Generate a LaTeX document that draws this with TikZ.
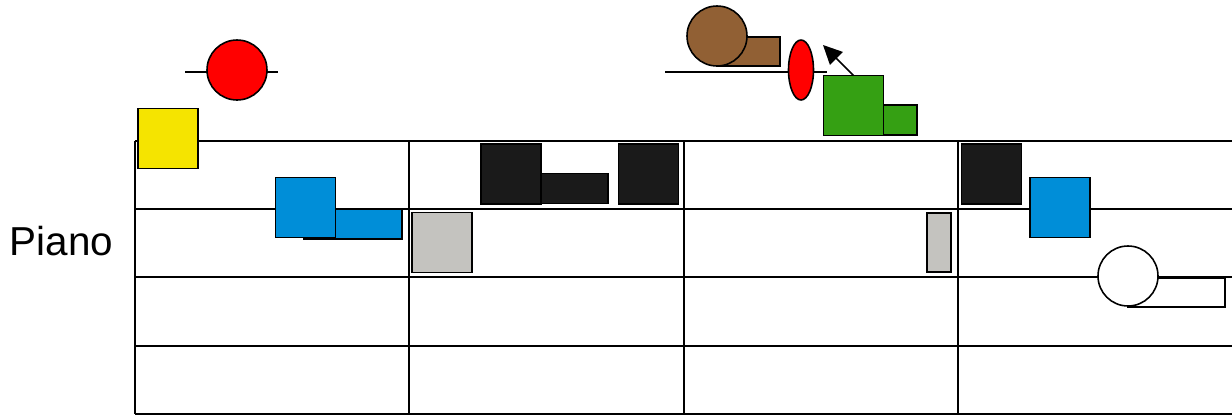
\documentclass[tikz,border=0pt]{standalone}
\usepackage{fontspec}
\setmainfont{Liberation Sans}
\usetikzlibrary{arrows.meta,shapes.geometric}
\definecolor{NoteYellow}{RGB}{245,228,0}
\definecolor{NoteRed}{RGB}{255,0,0}
\definecolor{NoteBlue}{RGB}{0,142,216}
\definecolor{NoteGray}{RGB}{196,195,191}
\definecolor{NoteBlack}{RGB}{26,26,26}
\definecolor{NoteBrown}{RGB}{145,96,52}
\definecolor{NoteGreen}{RGB}{53,160,19}

\begin{document}
\begin{tikzpicture}[
    x=0.02cm, y=-0.02cm,
    piece/.style={draw, line width=0.9pt, inner sep=0pt, outer sep=0pt},
    sq/.style={piece, minimum width=12mm, minimum height=12mm},
    bar/.style={piece, minimum width=#1, minimum height=6mm},
    ball/.style={piece, circle, minimum size=12mm},
    gridline/.style={line width=1.1pt},
    >=Stealth
  ]
  \useasboundingbox (0,0) rectangle (1232,416);

  % Raster
  \foreach \r in {141,209,277,346,414}{
    \draw[gridline] (135,\r) -- (1232,\r);
  }
  \foreach \c in {135,409,684,958}{
    \draw[gridline] (\c,141) -- (\c,414);
  }

  \node[font=\fontsize{23}{27}\selectfont] (piano) at (61.5,241) {Piano};

  % Links boven
  \coordinate (s1) at (185,72);
  \coordinate (s2) at (278,72);
  \draw[line width=0.9pt] (s1) -- (s2);
  \node[ball, fill=NoteRed] (rood) at (237,70) {};
  \node[sq, fill=NoteYellow] (geel) at (168,138.5) {};

  % Eerste vak
  \node[bar=19.6mm, fill=NoteBlue] (blauwb) at (353,224) {};
  \node[sq, fill=NoteBlue] (blauw) at (305.5,207.5) {};

  % Tweede vak
  \node[sq, fill=NoteGray] (grijs) at (442,242.5) {};
  \node[bar=19.6mm, fill=NoteBlack] (zwartb) at (559,188.5) {};
  \node[sq, fill=NoteBlack] (zwart1) at (511,174) {};
  \node[sq, fill=NoteBlack] (zwart2) at (648.5,174) {};

  % Midden boven
  \coordinate (t1) at (665,72);
  \coordinate (t2) at (827,72);
  \draw[line width=0.9pt] (t1) -- (t2);
  \node[bar=12.6mm, minimum height=5.8mm, fill=NoteBrown] (bruinb) at (748.5,51.5) {};
  \node[ball, fill=NoteBrown] (bruin) at (717,36) {};
  \node[piece, ellipse, minimum width=5mm, minimum height=12mm, fill=NoteRed] (ovaal) at (801,70) {};
  \node[bar=6.8mm, fill=NoteGreen] (groenb) at (900,120) {};
  \node[sq, fill=NoteGreen] (groen) at (853.5,105.5) {};
  \coordinate (pijl) at (823,45);
  \draw[line width=0.9pt, -{Triangle[length=3.8mm,width=3.6mm]}] (groen.north) -- (pijl);

  % Derde en vierde vak
  \node[piece, minimum width=4.8mm, minimum height=11.8mm, fill=NoteGray] (grijsdun) at (939,242.5) {};
  \node[sq, fill=NoteBlack] (zwart3) at (991.5,174) {};
  \node[sq, fill=NoteBlue] (blauw2) at (1060,207.5) {};
  \node[bar=19.4mm, minimum height=5.8mm, fill=white] (witb) at (1176.5,292.5) {};
  \node[ball, fill=white] (wit) at (1128,276) {};

\end{tikzpicture}
\end{document}
